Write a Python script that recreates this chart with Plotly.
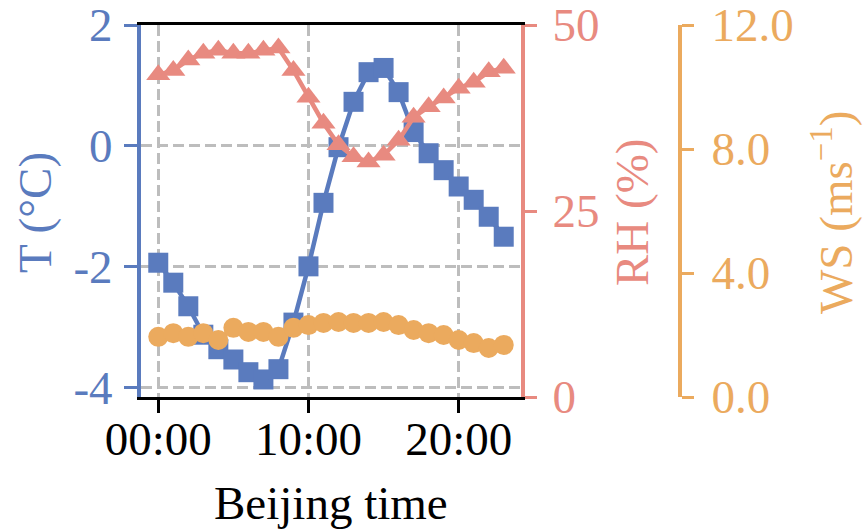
import plotly.graph_objects as go

hours = list(range(24))
temp = [-1.93, -2.26, -2.65, -3.12, -3.36, -3.53, -3.74, -3.86, -3.69, -2.92,
        -1.99, -0.94, -0.02, 0.73, 1.22, 1.29, 0.89, 0.23, -0.12, -0.40,
        -0.67, -0.89, -1.17, -1.50]
rh = [43.3, 43.9, 45.3, 46.2, 46.6, 46.2, 46.2, 46.6, 46.9, 43.9,
      40.3, 36.8, 33.9, 32.3, 31.6, 32.5, 34.5, 37.6, 39.0, 40.2,
      41.5, 42.3, 43.7, 44.2]
ws = [1.94, 2.06, 1.94, 2.06, 1.84, 2.23, 2.10, 2.10, 1.94, 2.23,
      2.32, 2.39, 2.42, 2.39, 2.39, 2.42, 2.32, 2.16, 2.06, 2.00,
      1.84, 1.74, 1.58, 1.68]

x_tickvals = [0, 10, 20]
x_ticktext = ["00:00", "10:00", "20:00"]
t_tickvals = [-4, -2, 0, 2]
t_ticktext = ["-4", "-2", "0", "2"]
rh_tickvals = [0, 25, 50]
ws_tickvals = [0, 4, 8, 12]
ws_ticktext = ["0.0", "4.0", "8.0", "12.0"]

BLUE = "#5A7BBE"
SALMON = "#E88A80"
ORANGE = "#EBAA5E"
FONT = "Liberation Serif"
FS = 47

W, H = 863, 530
x0, x1 = 141 / W, 521 / W
y0, y1 = 1 - 397 / H, 1 - 25 / H

fig = go.Figure()
fig.add_trace(go.Scatter(x=hours, y=temp, mode="lines+markers", yaxis="y",
                         line=dict(color=BLUE, width=4.5),
                         marker=dict(symbol="square", size=20, color=BLUE)))
fig.add_trace(go.Scatter(x=hours, y=rh, mode="lines+markers", yaxis="y2",
                         line=dict(color=SALMON, width=4.5),
                         marker=dict(symbol="triangle-up", size=21, color=SALMON)))
fig.add_trace(go.Scatter(x=hours, y=ws, mode="lines+markers", yaxis="y3",
                         line=dict(color=ORANGE, width=4.5),
                         marker=dict(symbol="circle", size=20, color=ORANGE)))

grid = dict(showgrid=True, gridcolor="#BDBDBD", gridwidth=2.5, griddash="11px,5px")

fig.update_layout(
    width=W, height=H,
    margin=dict(l=0, r=0, t=0, b=0),
    plot_bgcolor="white", paper_bgcolor="white",
    showlegend=False,
    font=dict(family=FONT, size=FS),
    xaxis=dict(domain=[x0, x1], range=[-1.15, 24.15], tickvals=x_tickvals,
               ticktext=x_ticktext, ticks="outside", ticklen=13, tickwidth=3,
               tickcolor="black", showline=True, linecolor="black", linewidth=3,
               mirror=True, zeroline=False, automargin=False,
               ticklabelstandoff=-14, ticklabeloverflow="allow",
               tickfont=dict(family=FONT, size=FS, color="black"), **grid),
    yaxis=dict(domain=[y0, y1], range=[-4.15, 2.0], tickvals=t_tickvals,
               ticktext=t_ticktext, ticks="outside", ticklen=13, tickwidth=3,
               tickcolor=BLUE, showline=True, linecolor=BLUE, linewidth=4,
               zeroline=False, automargin=False, ticklabelstandoff=2,
               ticklabeloverflow="allow",
               tickfont=dict(family=FONT, size=FS, color=BLUE), **grid),
    yaxis2=dict(overlaying="y", side="right", anchor="x", range=[0, 50],
                tickvals=rh_tickvals, ticks="outside", ticklen=12, tickwidth=3,
                tickcolor=SALMON, showline=True, linecolor=SALMON, linewidth=4,
                showgrid=False, zeroline=False, automargin=False,
                ticklabelstandoff=6, ticklabeloverflow="allow",
                tickfont=dict(family=FONT, size=FS, color=SALMON)),
    yaxis3=dict(overlaying="y", side="right", anchor="free", position=680 / W,
                range=[0, 12], tickvals=ws_tickvals, ticktext=ws_ticktext,
                ticks="outside", ticklen=12, tickwidth=3, tickcolor=ORANGE,
                showline=True, linecolor=ORANGE, linewidth=4,
                showgrid=False, zeroline=False, automargin=False,
                ticklabelstandoff=8, ticklabeloverflow="allow",
                tickfont=dict(family=FONT, size=FS, color=ORANGE)),
)

ann = dict(xref="paper", yref="paper", showarrow=False, xanchor="center", yanchor="middle")
fig.add_annotation(text="T (°C)", x=35 / W, y=1 - 213 / H, textangle=-90,
                   font=dict(family=FONT, size=FS, color=BLUE), **ann)
fig.add_annotation(text="RH (%)", x=632 / W, y=1 - 212 / H, textangle=-90,
                   font=dict(family=FONT, size=FS, color=SALMON), **ann)
fig.add_annotation(text="WS (ms<sup>−1</sup>)", x=832 / W, y=1 - 213 / H, textangle=-90,
                   font=dict(family=FONT, size=FS, color=ORANGE), **ann)
fig.add_annotation(text="Beijing time", x=331 / W, y=1 - 503 / H,
                   font=dict(family=FONT, size=FS, color="black"), **ann)

fig.write_html("out.html")
